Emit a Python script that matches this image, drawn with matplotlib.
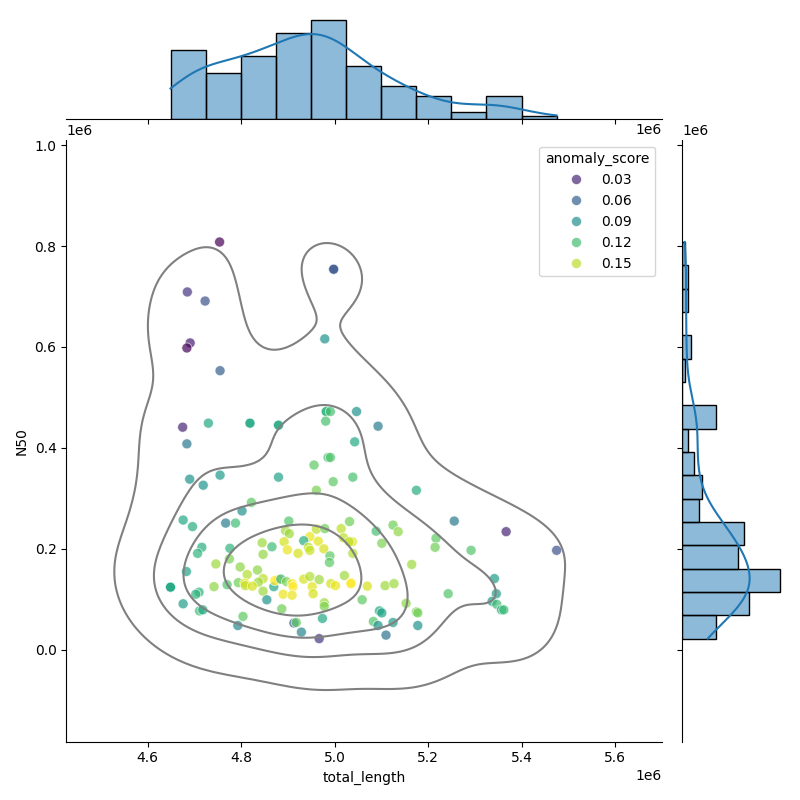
import matplotlib
matplotlib.use("Agg")
import matplotlib.pyplot as plt
import numpy as np
import pandas as pd
import seaborn as sns

total_length_m = [
 4.690,4.719,4.755,4.880,4.997,5.039,4.961,4.822,4.802,4.676,4.696,4.767,4.788,4.902,5.032,4.895,4.903,4.961,4.979,5.014,
 5.019,5.038,5.031,4.947,4.892,4.965,4.845,4.866,4.934,4.944,4.947,4.977,4.899,4.922,4.847,4.990,4.989,5.039,4.716,4.707,
 4.776,4.775,4.746,4.798,4.835,4.813,4.683,4.847,4.837,4.794,4.808,4.809,4.824,4.770,4.742,4.649,4.710,4.703,4.870,4.880,
 4.872,4.885,4.897,4.909,4.911,4.934,4.947,4.967,4.952,4.954,4.992,5.002,5.021,5.035,5.035,4.847,4.890,4.909,4.855,4.676,
 4.711,4.718,4.978,4.978,4.887,4.804,4.974,4.793,4.913,4.918,4.929,4.967,
 5.175,5.256,5.367,5.475,5.125,5.136,5.089,5.101,5.217,5.215,5.292,5.165,5.070,5.108,5.127,5.059,5.342,5.346,5.243,5.153,
 5.337,5.347,5.175,5.178,5.357,5.362,5.096,5.101,5.083,5.125,5.093,5.178,5.110,
 4.754,4.685,4.723,4.998,4.998,4.979,4.691,4.684,4.755,4.675,4.730,4.819,4.819,4.880,4.880,4.982,4.982,4.991,5.047,5.093,
 4.981,4.684,5.043,4.986,4.991,4.956,4.649,4.649,
]
n50_m = [
 .338,.326,.346,.342,.333,.342,.316,.292,.275,.257,.244,.251,.251,.255,.254,.236,.230,.239,.240,.240,
 .222,.214,.214,.224,.214,.215,.212,.204,.216,.203,.197,.200,.198,.191,.189,.186,.173,.191,.203,.191,
 .201,.180,.170,.164,.158,.149,.155,.141,.134,.133,.132,.127,.126,.129,.125,.124,.114,.110,.125,.139,
 .137,.140,.135,.131,.125,.140,.145,.139,.125,.111,.131,.127,.147,.133,.131,.116,.110,.108,.099,.091,
 .077,.079,.093,.086,.081,.066,.062,.048,.053,.054,.035,.022,
 .316,.255,.234,.197,.247,.234,.235,.211,.221,.203,.197,.169,.126,.127,.131,.099,.141,.111,.111,.092,
 .096,.090,.075,.073,.079,.079,.077,.073,.056,.054,.048,.048,.029,
 .808,.709,.691,.754,.754,.616,.608,.598,.553,.441,.449,.449,.449,.445,.445,.472,.472,.472,.472,.443,
 .453,.408,.412,.381,.381,.366,.124,.124,
]
anomaly_score = [
 .091,.091,.097,.102,.128,.121,.135,.128,.091,.105,.108,.078,.118,.124,.133,.144,.144,.151,.133,.151,
 .151,.159,.151,.161,.156,.159,.144,.118,.108,.151,.154,.156,.161,.156,.141,.128,.128,.148,.108,.113,
 .113,.136,.144,.140,.140,.148,.102,.151,.144,.133,.161,.151,.156,.124,.140,.105,.113,.113,.105,.166,
 .166,.113,.136,.166,.166,.156,.148,.144,.159,.156,.156,.161,.144,.166,.166,.144,.161,.161,.091,.098,
 .118,.105,.144,.136,.133,.128,.105,.083,.059,.128,.083,.037,
 .108,.075,.029,.052,.133,.140,.121,.136,.128,.133,.124,.144,.156,.144,.144,.128,.098,.098,.124,.140,
 .098,.118,.136,.133,.108,.118,.105,.102,.124,.098,.091,.091,.072,
 .014,.037,.052,.044,.057,.091,.026,.016,.059,.029,.105,.105,.105,.091,.109,.113,.113,.121,.091,.078,
 .121,.075,.105,.121,.124,.128,.105,.105,
]
x_bins = 11
y_bins = 17
x_limits = (4.426e6, 5.700e6)
y_limits = (-0.182e6, 1.011e6)

df = pd.DataFrame({
    "total_length": np.array(total_length_m) * 1e6,
    "N50": np.array(n50_m) * 1e6,
    "anomaly_score": anomaly_score,
})

g = sns.JointGrid(data=df, x="total_length", y="N50", height=8)
g.plot_joint(sns.scatterplot, hue=df["anomaly_score"], palette="viridis", s=52, alpha=0.7)
g.plot_joint(sns.kdeplot, color="gray", levels=5)
sns.histplot(data=df, x="total_length", bins=x_bins, kde=True, ax=g.ax_marg_x)
sns.histplot(data=df, y="N50", bins=y_bins, kde=True, ax=g.ax_marg_y)
g.ax_joint.set_xlim(x_limits)
g.ax_joint.set_ylim(y_limits)
g.figure.savefig("out.png", dpi=100)
